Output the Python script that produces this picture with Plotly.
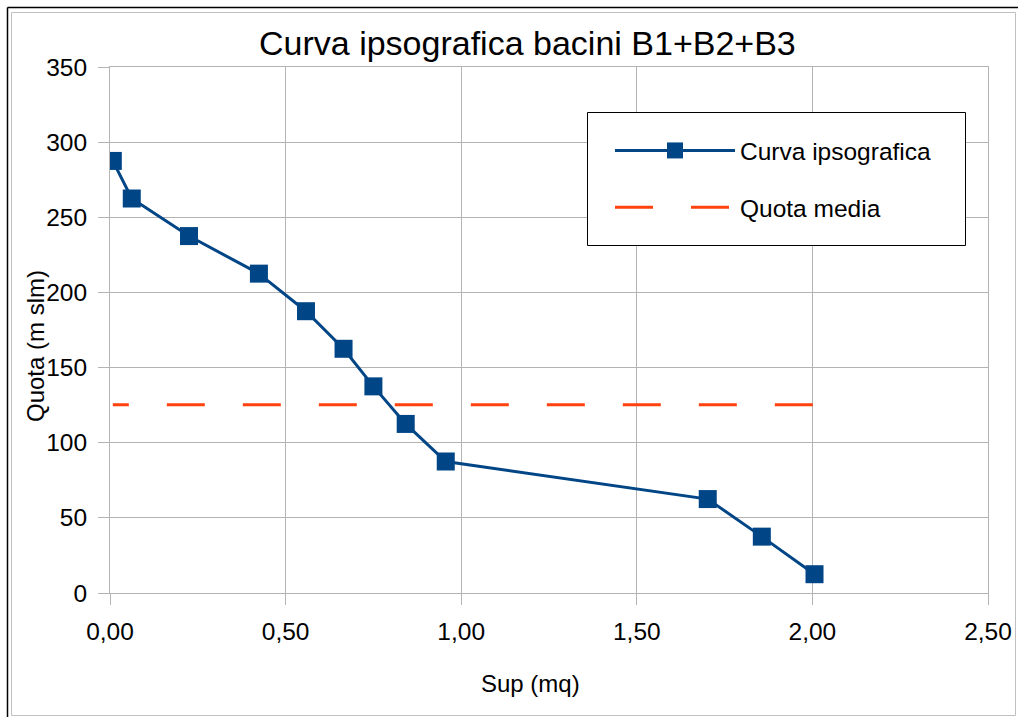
import plotly.graph_objects as go

# Data
sup_mq = [0.008, 0.062, 0.225, 0.424, 0.558, 0.665, 0.750, 0.842, 0.956, 1.702, 1.856, 2.006]
quota = [287.5, 262.5, 237.5, 212.5, 187.5, 162.5, 137.5, 112.5, 87.5, 62.5, 37.5, 12.5]
quota_media = 125.3

x_ticks = [0.0, 0.5, 1.0, 1.5, 2.0, 2.5]
x_ticklabels = ["0,00", "0,50", "1,00", "1,50", "2,00", "2,50"]
y_ticks = [0, 50, 100, 150, 200, 250, 300, 350]

BLUE = "#004586"
ORANGE = "#ff420e"
GRID = "#b3b3b3"
FONT = "Liberation Sans, Arial, sans-serif"

W, H = 1018, 717
L, R, T, B = 110, 30, 67, 124
PW, PH = W - L - R, H - T - B


def px(xp):
    return (xp - L) / PW


def py(yp):
    return (H - B - yp) / PH


fig = go.Figure()
fig.add_trace(go.Scatter(
    x=sup_mq, y=quota, mode="lines+markers", name="Curva ipsografica",
    line=dict(color=BLUE, width=3),
    marker=dict(symbol="square", size=18, color=BLUE, line=dict(width=0)),
    legendgroup="a",
))
fig.add_trace(go.Scatter(
    x=[sup_mq[0], sup_mq[-1]], y=[quota_media, quota_media], mode="lines",
    name="Quota media", showlegend=False,
    line=dict(color=ORANGE, width=3,
              dash="16px,38px" + ",38px,38px" * 10),
    legendgroup="b",
))
# legend entry for the mean line (regular dash pattern in the key)
fig.add_trace(go.Scatter(
    x=[None], y=[None], mode="lines", name="Quota media",
    line=dict(color=ORANGE, width=3, dash="38px,38px"),
    legendgroup="b", hoverinfo="skip",
))

axis_common = dict(
    showgrid=True, gridcolor=GRID, gridwidth=1,
    zeroline=False, showline=True, linecolor=GRID, linewidth=1, mirror=True,
    ticks="outside", ticklen=11, tickcolor=GRID, tickwidth=1,
    tickfont=dict(family=FONT, size=24.5, color="#000000"),
)

fig.update_layout(
    width=W, height=H,
    margin=dict(l=L, r=R, t=T, b=B, autoexpand=False),
    paper_bgcolor="white", plot_bgcolor="white",
    font=dict(family=FONT, color="#000000"),
    showlegend=True,
    legend=dict(
        x=px(610), y=py(128), xanchor="left", yanchor="top",
        bgcolor="rgba(0,0,0,0)", borderwidth=0,
        font=dict(family=FONT, size=24.5, color="#000000"),
        itemwidth=120, traceorder="grouped", tracegroupgap=22,
        valign="middle",
    ),
    xaxis=dict(range=[0, 2.5], tickvals=x_ticks, ticktext=x_ticklabels,
               ticklabelstandoff=6, **axis_common),
    yaxis=dict(range=[0, 350], tickvals=y_ticks, ticklabelstandoff=6,
               **axis_common),
)

annotations = [
    dict(text="Curva ipsografica bacini B1+B2+B3", x=px(527), y=py(43),
         xref="paper", yref="paper", showarrow=False, xanchor="center",
         yanchor="middle", font=dict(family=FONT, size=34, color="#000000")),
    dict(text="Sup (mq)", x=px(530), y=py(683), xref="paper", yref="paper",
         showarrow=False, xanchor="center", yanchor="middle",
         font=dict(family=FONT, size=24, color="#000000")),
    dict(text="Quota (m slm)", x=px(35), y=py(346), xref="paper", yref="paper",
         showarrow=False, xanchor="center", yanchor="middle", textangle=-90,
         font=dict(family=FONT, size=24, color="#000000")),
]
fig.update_layout(annotations=annotations)

shapes = [
    dict(type="rect", xref="paper", yref="paper", x0=px(11.5), x1=px(1015.5),
         y0=py(12.5), y1=py(715.5), line=dict(color="#c0c0c0", width=1),
         layer="below"),
    dict(type="line", xref="paper", yref="paper", x0=px(7.5), x1=px(1018),
         y0=py(7.5), y1=py(7.5), line=dict(color="#000000", width=1.5)),
    dict(type="line", xref="paper", yref="paper", x0=px(7.5), x1=px(7.5),
         y0=py(7.5), y1=py(717), line=dict(color="#000000", width=1.5)),
    # legend frame
    dict(type="rect", xref="paper", yref="paper", x0=px(587.5), x1=px(965.5),
         y0=py(112.5), y1=py(245.5), fillcolor="white",
         line=dict(color="#000000", width=1), layer="above"),
]
fig.update_layout(shapes=shapes)

fig.write_html("out.html")
